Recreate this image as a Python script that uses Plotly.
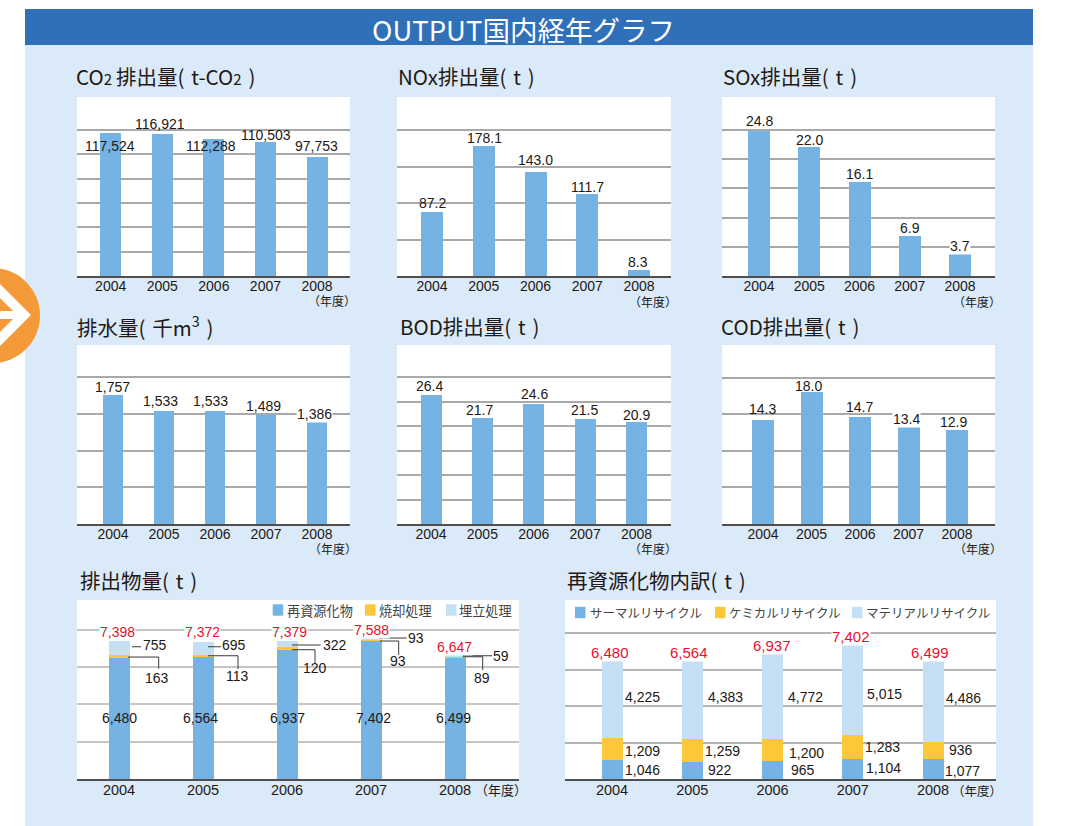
import plotly.graph_objects as go

# ---------- data ----------
YEARS = [2004, 2005, 2006, 2007, 2008]
CO2 = [117524, 116921, 112288, 110503, 97753]
NOX = [87.2, 178.1, 143.0, 111.7, 8.3]
SOX = [24.8, 22.0, 16.1, 6.9, 3.7]
WATER = [1757, 1533, 1533, 1489, 1386]
BOD = [26.4, 21.7, 24.6, 21.5, 20.9]
COD = [14.3, 18.0, 14.7, 13.4, 12.9]
RECYCLED = [6480, 6564, 6937, 7402, 6499]
INCINERATED = [163, 113, 120, 93, 89]
LANDFILL = [755, 695, 322, 93, 59]
WASTE_TOTAL = [7398, 7372, 7379, 7588, 6647]
THERMAL = [1046, 922, 965, 1104, 1077]
CHEMICAL = [1209, 1259, 1200, 1283, 936]
MATERIAL = [4225, 4383, 4772, 5015, 4486]
RECYCLE_TOTAL = [6480, 6564, 6937, 7402, 6499]

# ---------- page geometry / style ----------
W, H = 1069, 826
BLUE, YELLOW, PALE = "#74b3e3", "#fcc837", "#c5e0f5"
PANEL_BG = "#daeaf8"
INK = "#231815"
RED = "#e8112d"
LATIN = "Liberation Sans, Arial, sans-serif"
CJK = "Noto Sans CJK JP, sans-serif"
SUB2 = "<span style='font-size:15px'>2</span>"
SP = "\u2004"


def px(x):
    return x / W


def py(y):
    return 1 - y / H


PANELS = [
    dict(t=f"CO{SUB2}\u2009排出量({SP}t-CO{SUB2}{SP})", v=CO2, l=77, r=350, top=97, b=276, c0=110.7, c1=317, bw=21, ymax=147100, dt=20000, gtop=120000, tx=75, ty=75.5, nx=356.5, ny=301, fmt="{:,.0f}",
         dx=[-0.7, -2, -3, 1, -0.5], dy=[-13, 9.7, -6.6, 6.8, 11], bg=[]),
    dict(t=f"NOx排出量({SP}t{SP})", v=NOX, l=397, r=671, top=97, b=276, c0=432, c1=639, bw=22, ymax=245.2, dt=50, gtop=200, tx=397, ty=75.5, nx=677.5, ny=301.5, fmt="{:.1f}",
         dx=[0.7, 0.25, 0.2, -0.25, -0.7], dy=[9.3, 8.3, 11.7, 7.7, 7.7], bg=[]),
    dict(t=f"SOx排出量({SP}t{SP})", v=SOX, l=722, r=995, top=97, b=276, c0=759, c1=960, bw=22, ymax=30.6, dt=5, gtop=25, tx=722, ty=75.5, nx=1001.5, ny=301.5, fmt="{:.1f}",
         dx=[0, 0, 0, 0, 0], dy=[9.7, 7.7, 8.3, 7.7, 8], bg=[4]),
    dict(t=f"排水量({SP}千m<sup>3</sup>{SP})", v=WATER, l=77, r=350, top=345, b=524, c0=113, c1=317, bw=20, ymax=2439, dt=500, gtop=2000, tx=76, ty=326.5, nx=357.5, ny=548, fmt="{:,.0f}",
         dx=[-0.3, -3.3, -4.3, -2.7, -2.3], dy=[8, 10.2, 10.2, 9, 8.6], bg=[4]),
    dict(t=f"BOD排出量({SP}t{SP})", v=BOD, l=397, r=671, top=345, b=524, c0=431, c1=636.5, bw=21, ymax=36.6, dt=5, gtop=30, tx=399, ty=326.5, nx=677.5, ny=548, fmt="{:.1f}",
         dx=[-1.3, -2.7, 0.5, -1.1, 0.2], dy=[8.7, 8, 9.7, 9, 6.7], bg=[]),
    dict(t=f"COD排出量({SP}t{SP})", v=COD, l=722, r=995, top=345, b=524, c0=763, c1=957, bw=22, ymax=24.5, dt=5, gtop=20, tx=720, ty=326.5, nx=1002.5, ny=548, fmt="{:.1f}",
         dx=[-0.7, -2.8, -0.7, -2.5, -3.7], dy=[10.7, 6.3, 9.7, 7.2, 7.3], bg=[3]),
]

fig = go.Figure()
shapes = []
ann = []
layout_axes = {}


def text(x, y, s, size, color=INK, family=LATIN, anchor="center", xref="paper", yref="paper", dx=0, dy=0, bg=None):
    ann.append(dict(x=x, y=y, xref=xref, yref=yref, text=s, showarrow=False,
                    xanchor=anchor, yanchor="middle", xshift=dx, yshift=dy,
                    font=dict(size=size, color=color, family=family),
                    bgcolor=bg, borderpad=0))


def axes(i, l, r, top, b, c0, c1, ymax, dt, gtop, grid, gridw=1.5, tick=14, standoff=-4):
    step = (c1 - c0) / 4
    xmin = YEARS[0] - (c0 - l) / step
    xmax = YEARS[0] + (r - c0) / step
    s = "" if i == 1 else str(i)
    grid_vals = [dt * k for k in range(1, round(gtop / dt) + 1)]
    layout_axes["xaxis" + s] = dict(
        domain=[px(l), px(r)], range=[xmin, xmax], anchor="y" + s, tickvals=YEARS,
        ticktext=[str(y) for y in YEARS], tickfont=dict(size=tick, color=INK, family=LATIN),
        ticklabelstandoff=standoff,
        showgrid=False, zeroline=False, showline=True, linecolor="#4f4f4f", linewidth=1.6, ticks="", fixedrange=True)
    layout_axes["yaxis" + s] = dict(
        domain=[py(b), py(top)], range=[0, ymax], anchor="x" + s, tickmode="array", tickvals=grid_vals,
        showticklabels=False, showgrid=True, gridcolor=grid, gridwidth=gridw, zeroline=False,
        showline=False, ticks="", fixedrange=True)
    shapes.append(dict(type="rect", xref="paper", yref="paper", layer="below", x0=px(l), x1=px(r), y0=py(b), y1=py(top),
                       fillcolor="white", line_width=0))
    return "x" + s, "y" + s, step


# background
shapes.append(dict(type="rect", xref="paper", yref="paper", layer="below", x0=px(25), x1=px(1033), y0=py(826), y1=py(45), fillcolor=PANEL_BG, line_width=0))
shapes.append(dict(type="rect", xref="paper", yref="paper", layer="below", x0=px(25), x1=px(1033), y0=py(45), y1=py(9), fillcolor="#3070b8", line_width=0))
text(px(523.5), py(29), "OUTPUT国内経年グラフ", 27.5, color="white", family=CJK)

# orange arrow badge
shapes.append(dict(type="circle", xref="paper", yref="paper", layer="above", x0=px(-55), x1=px(40), y0=py(363), y1=py(268), fillcolor="#f59a38", line_width=0))
def poly(pts, col):
    d = "M " + " L ".join(f"{px(a):.5f},{py(b):.5f}" for a, b in pts) + " Z"
    shapes.append(dict(type="path", xref="paper", yref="paper", layer="above", path=d, fillcolor=col, line_width=0))
poly([(0, 284), (31, 315), (0, 346)], "white")
poly([(0, 298), (13, 311), (0, 311)], "#f59a38")
poly([(0, 319), (13, 319), (0, 332)], "#f59a38")

# single-series panels
for n, p in enumerate(PANELS, start=1):
    xr, yr, step = axes(n, p["l"], p["r"], p["top"], p["b"], p["c0"], p["c1"], p["ymax"], p["dt"], p["gtop"], "#a9a9a9")
    fig.add_trace(go.Bar(x=YEARS, y=p["v"], xaxis=xr, yaxis=yr, marker=dict(color=BLUE, line_width=0),
                         width=p["bw"] / step, showlegend=False, hoverinfo="x+y"))
    text(px(p["tx"]), py(p["ty"]), p["t"], 20.5, family=CJK, anchor="left")
    text(px(p["nx"]), py(p["ny"]), "（年度）", 12, family=CJK, anchor="right")
    for k, (year, val, dx, dy) in enumerate(zip(YEARS, p["v"], p["dx"], p["dy"])):
        text(year, val, p["fmt"].format(val), 14, xref=xr, yref=yr, dx=dx, dy=dy, bg="white" if k in p["bg"] else None)

# waste panel
xr, yr, step = axes(7, 77, 519, 600, 779, 119, 455, 9600, 2000, 8000, "#c6c6c6", 1.6, tick=14.5, standoff=-3)
BW = 21 / step
for name, vals, col in (("再資源化物", RECYCLED, BLUE), ("焼却処理", INCINERATED, YELLOW), ("埋立処理", LANDFILL, PALE)):
    fig.add_trace(go.Bar(name=name, x=YEARS, y=vals, xaxis=xr, yaxis=yr, width=BW, showlegend=False,
                         marker=dict(color=col, line_width=0), hovertemplate=name + ": %{y}<extra></extra>"))
text(px(79), py(579.5), f"排出物量({SP}t{SP})", 20.5, family=CJK, anchor="left")
text(px(528), py(789), "（年度）", 13, family=CJK, anchor="right")

RED_DX = [-2, -1, 2, 0, -1]
RED_DY = [9, 9.5, 9.5, 7.5, 8]
BLUE_DX = [0, -3, 0, 2, -2]
BLUE_DY = [-60, -61.4, -68.4, -77, -60]
INC_DX = [38, 34, 28, 27, 27]
INC_DY = [-37, -34.5, -26.6, -23.5, -23]
LAND_DX = [36, 31, 47.7, 44.7, 45.7]
LAND_DY = [-4, -3.5, -3.6, -0.5, -1.3]
# leader lines: pixel offsets from the (year, total) anchor
INC_LEAD = [(9, 39.7, -16, -27.7), (5, 35, -14.2, -27.5), (5, 28, -8.3, -21.6), (9, 27.7, -3.5, -17.5), (7.7, 27.7, -1.7, -15)]
LAND_LEAD = [(13, 22, -5.7), (5, 18, -5.2), (5, 33.7, -3.6), (9, 35.7, -0.5), (7.7, 37, -0.7)]
for i, year in enumerate(YEARS):
    tot = WASTE_TOTAL[i]
    text(year, tot, f"{tot:,}", 14, color=RED, xref=xr, yref=yr, dx=RED_DX[i], dy=RED_DY[i], bg="white")
    text(year, RECYCLED[i], f"{RECYCLED[i]:,}", 14, xref=xr, yref=yr, dx=BLUE_DX[i], dy=BLUE_DY[i])
    text(year, tot, f"{INCINERATED[i]:,}", 14, xref=xr, yref=yr, dx=INC_DX[i], dy=INC_DY[i])
    text(year, tot, f"{LANDFILL[i]:,}", 14, xref=xr, yref=yr, dx=LAND_DX[i], dy=LAND_DY[i])
    a, b, c, d = INC_LEAD[i]
    shapes.append(dict(type="path", xref=xr, yref=yr, xsizemode="pixel", ysizemode="pixel", xanchor=year, yanchor=tot,
                       path=f"M {a},{c} L {b},{c} L {b},{d}", line=dict(color="#3a3a3a", width=1), layer="above"))
    a, b, c = LAND_LEAD[i]
    shapes.append(dict(type="path", xref=xr, yref=yr, xsizemode="pixel", ysizemode="pixel", xanchor=year, yanchor=tot,
                       path=f"M {a},{c} L {b},{c}", line=dict(color="#3a3a3a", width=1), layer="above"))

# recycling breakdown panel
xr, yr, step = axes(8, 565, 996, 600, 779, 612, 933, 9808, 2000, 8000, "#b4b4b4", 1.5, tick=14.5, standoff=-3)
BW = 21 / step
for name, vals, col in (("サーマルリサイクル", THERMAL, BLUE), ("ケミカルリサイクル", CHEMICAL, YELLOW), ("マテリアルリサイクル", MATERIAL, PALE)):
    fig.add_trace(go.Bar(name=name, x=YEARS, y=vals, xaxis=xr, yaxis=yr, width=BW, showlegend=False,
                         marker=dict(color=col, line_width=0), hovertemplate=name + ": %{y}<extra></extra>"))
text(px(566), py(579.5), f"再資源化物内訳({SP}t{SP})", 20.5, family=CJK, anchor="left")
text(px(1003), py(790), "（年度）", 12.5, family=CJK, anchor="right")

R2_DX = [-2, -3.3, -0.5, -1.3, -3]
R2_DY = [8.3, 6.5, 7.4, 7.7, 7.7]
MAT_DX = [30.3, 33, 32.8, 31.3, 30.3]
MAT_DY = [-36.3, -38.1, -44.9, -50, -37.9]
CHE_DX = [30.7, 30.7, 33.5, 29.7, 28.3]
CHE_DY = [-90.3, -92.1, -100.9, -103.3, -89.9]
THE_DX = [30.7, 27.7, 30.2, 30.3, 29.3]
THE_DY = [-109, -110.8, -117.6, -124, -110.9]
for i, year in enumerate(YEARS):
    tot = RECYCLE_TOTAL[i]
    text(year, tot, f"{tot:,}", 15, color=RED, xref=xr, yref=yr, dx=R2_DX[i], dy=R2_DY[i], bg="white")
    text(year, tot, f"{MATERIAL[i]:,}", 14, xref=xr, yref=yr, dx=MAT_DX[i], dy=MAT_DY[i])
    text(year, tot, f"{CHEMICAL[i]:,}", 14, xref=xr, yref=yr, dx=CHE_DX[i], dy=CHE_DY[i])
    text(year, tot, f"{THERMAL[i]:,}", 14, xref=xr, yref=yr, dx=THE_DX[i], dy=THE_DY[i])

# hand-placed legends
def legend_item(sx, y, label, col, tx, size):
    shapes.append(dict(type="rect", xref="paper", yref="paper", layer="above", x0=px(sx), x1=px(sx + 10.5), y0=py(y + 5.7), y1=py(y - 5.7), fillcolor=col, line_width=0))
    text(px(tx), py(y), label, size, color="#444444", family=CJK, anchor="left")

for sx, tx, lab, col in ((272.7, 285.5, "再資源化物", BLUE), (365, 377.7, "焼却処理", YELLOW), (446, 457.5, "埋立処理", PALE)):
    legend_item(sx, 610, lab, col, tx, 13.2)
for sx, tx, lab, col in ((575, 589, "サーマルリサイクル", BLUE), (715, 727.7, "ケミカルリサイクル", YELLOW), (852, 865, "マテリアルリサイクル", PALE)):
    legend_item(sx, 612.5, lab, col, tx, 12.5)

fig.update_layout(width=W, height=H, margin=dict(l=0, r=0, t=0, b=0, pad=0), paper_bgcolor="white", plot_bgcolor="rgba(0,0,0,0)",
                  barmode="stack", shapes=shapes, annotations=ann, showlegend=False, **layout_axes)
fig.write_html("out.html", config=dict(displayModeBar=False),
               post_script="document.body.style.margin='0';document.body.style.overflow='hidden';")
